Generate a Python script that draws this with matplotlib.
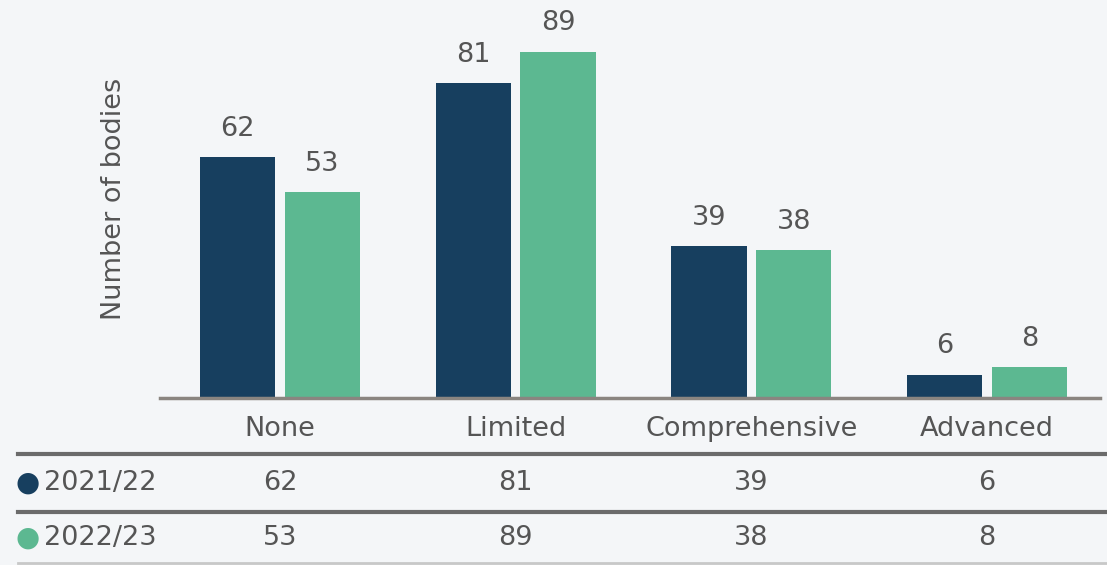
import numpy as np
import matplotlib.pyplot as plt
from matplotlib.transforms import blended_transform_factory
from matplotlib.lines import Line2D

# Daten
kategorien = ['None', 'Limited', 'Comprehensive', 'Advanced']
jahre = ['2021/22', '2022/23']
werte_2122 = [62, 81, 39, 6]
werte_2223 = [53, 89, 38, 8]

farben = ['#173f5f', '#5cb891']
hintergrund = '#f4f6f8'
textfarbe = '#555555'
gr = 19.5

plt.rcParams['font.family'] = ['DejaVu Sans']

fig = plt.figure(figsize=(11.07, 5.65), dpi=100, facecolor=hintergrund)
ax = fig.add_axes([0.1445, 0.2956, 0.8492, 0.7044])
ax.set_facecolor(hintergrund)

x = np.arange(len(kategorien))
breite = 0.32
versatz = 0.18

balken1 = ax.bar(x - versatz, werte_2122, breite, color=farben[0])
balken2 = ax.bar(x + versatz, werte_2223, breite, color=farben[1])
ax.bar_label(balken1, padding=11, fontsize=gr, color=textfarbe)
ax.bar_label(balken2, padding=11, fontsize=gr, color=textfarbe)

ax.set_xlim(-0.51, 3.48)
ax.set_ylim(0, 102.3)
for s in ['top', 'right', 'left']:
    ax.spines[s].set_visible(False)
ax.spines['bottom'].set_color('#8a8580')
ax.spines['bottom'].set_linewidth(2.5)
ax.set_yticks([])
ax.set_xticks(x)
ax.set_xticklabels(kategorien, fontsize=gr, color=textfarbe)
ax.tick_params(axis='x', length=0, pad=13)
ax.set_ylabel('Number of bodies', fontsize=gr, color=textfarbe)
ax.yaxis.set_label_coords(-0.035, 0.5)

# Tabelle unter dem Diagramm
trans = blended_transform_factory(ax.transData, fig.transFigure)
H = 565.0
def fy(py):
    return 1 - py / H

for py, lw, c in [(454, 3, '#6b6b6b'), (512, 3, '#6b6b6b'), (563, 2, '#c8c8c8')]:
    fig.add_artist(Line2D([18 / 1107, 1.0], [fy(py), fy(py)], color=c, lw=lw))

zeilen_y = [483, 538]
for werte, jahr, farbe, py in zip([werte_2122, werte_2223], jahre, farben, zeilen_y):
    fig.text(28 / 1107, fy(py), '\u25CF', color=farbe, fontsize=20, ha='center', va='center')
    fig.text(44 / 1107, fy(py), jahr, color=textfarbe, fontsize=gr, ha='left', va='center')
    for xi, w in zip(x, werte):
        ax.text(xi, fy(py), str(w), transform=trans, color=textfarbe, fontsize=gr,
                ha='center', va='center')

fig.savefig('out.png', dpi=100, facecolor=hintergrund)
